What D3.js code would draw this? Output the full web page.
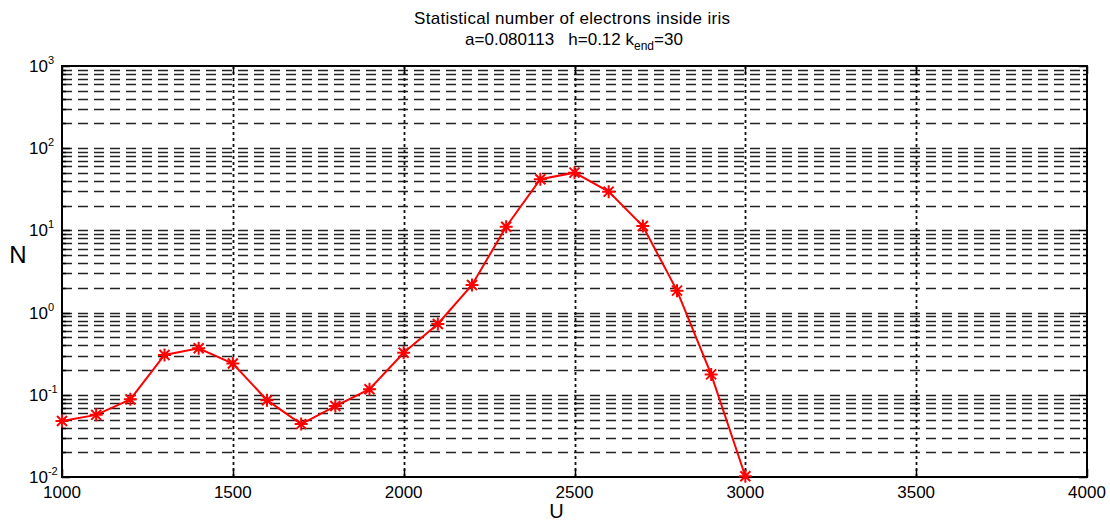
<!DOCTYPE html>
<html>
<head>
<meta charset="utf-8">
<script src="https://cdn.jsdelivr.net/npm/d3@7"></script>
<style>
  html, body { margin: 0; padding: 0; background: #fff; }
  svg { display: block; }
  text { font-family: "Liberation Sans", Arial, sans-serif; fill: #000; white-space: pre; }
</style>
</head>
<body>
<div id="chart"></div>
<script>
// Electron count N versus U (log scale)
const uValues = [1000, 1100, 1200, 1300, 1400, 1500, 1600, 1700, 1800, 1900, 2000,
                 2100, 2200, 2300, 2400, 2500, 2600, 2700, 2800, 2900, 3000];
const nValues = [0.048, 0.057, 0.088, 0.305, 0.368, 0.24, 0.086, 0.044, 0.073, 0.117, 0.325,
                 0.726, 2.17, 11.1, 41.9, 50.4, 29.6, 11.3, 1.85, 0.177, 0.0102];
const xTicks = [1000, 1500, 2000, 2500, 3000, 3500, 4000];
const yExponents = [-2, -1, 0, 1, 2, 3];
const titleLine1 = "Statistical number of electrons inside iris";
const titleParams = { a: "0.080113", h: "0.12", kend: "30" };

const W = 1110, H = 524;
const plot = { left: 62, right: 1087, top: 66, bottom: 477 };

const svg = d3.select("#chart").append("svg")
  .attr("width", W).attr("height", H);

const x = d3.scaleLinear().domain([1000, 4000]).range([plot.left, plot.right]);
const y = d3.scaleLog().domain([1e-2, 1e3]).range([plot.bottom, plot.top]);

// minor log positions (2..9 in every decade) and decade positions
const minorVals = [];
for (let e = -2; e < 3; e++) for (let m = 2; m <= 9; m++) minorVals.push(m * Math.pow(10, e));
const majorVals = yExponents.map(e => Math.pow(10, e));

const grid = svg.append("g");
// horizontal dashed grid at every log tick
grid.selectAll("line.h").data(minorVals.concat(majorVals.slice(1, -1))).join("line")
  .attr("class", "h")
  .attr("x1", plot.left).attr("x2", plot.right)
  .attr("y1", d => Math.round(y(d)) + 0.5).attr("y2", d => Math.round(y(d)) + 0.5)
  .attr("stroke", "#222").attr("stroke-width", 1.6)
  .attr("stroke-dasharray", "10,6");
// vertical dotted grid at the inner x ticks
grid.selectAll("line.v").data(xTicks.slice(1, -1)).join("line")
  .attr("class", "v")
  .attr("x1", d => Math.round(x(d)) + 0.5).attr("x2", d => Math.round(x(d)) + 0.5)
  .attr("y1", plot.top).attr("y2", plot.bottom)
  .attr("stroke", "#111").attr("stroke-width", 1.8)
  .attr("stroke-dasharray", "3,3");

// axes box
const ax = svg.append("g").attr("stroke", "#000").attr("fill", "none");
ax.append("rect")
  .attr("x", plot.left).attr("y", plot.top)
  .attr("width", plot.right - plot.left).attr("height", plot.bottom - plot.top)
  .attr("stroke-width", 2);

// tick marks on all four sides (inward)
const majLen = 8, minLen = 4;
majorVals.concat(minorVals).forEach(v => {
  const len = majorVals.includes(v) ? majLen : minLen;
  const yy = Math.round(y(v)) + 0.5;
  ax.append("line").attr("x1", plot.left).attr("x2", plot.left + len)
    .attr("y1", yy).attr("y2", yy).attr("stroke-width", 1.5);
  ax.append("line").attr("x1", plot.right).attr("x2", plot.right - len)
    .attr("y1", yy).attr("y2", yy).attr("stroke-width", 1.5);
});
xTicks.forEach(v => {
  const xx = Math.round(x(v)) + 0.5;
  ax.append("line").attr("x1", xx).attr("x2", xx)
    .attr("y1", plot.bottom).attr("y2", plot.bottom - majLen).attr("stroke-width", 1.5);
  ax.append("line").attr("x1", xx).attr("x2", xx)
    .attr("y1", plot.top).attr("y2", plot.top + majLen).attr("stroke-width", 1.5);
});

// x tick labels
svg.append("g").selectAll("text").data(xTicks).join("text")
  .attr("x", d => x(d)).attr("y", 498)
  .attr("text-anchor", "middle")
  .style("font-size", "17px")
  .text(d => d);

// y tick labels as 10 with a superscript exponent
const yl = svg.append("g").selectAll("text").data(yExponents).join("text")
  .attr("x", 29).attr("y", d => y(Math.pow(10, d)) + 6)
  .attr("text-anchor", "start")
  .style("font-size", "17px");
yl.append("tspan").text("10");
yl.append("tspan").attr("dy", -8).style("font-size", "11px").text(d => d);

// axis titles
svg.append("text").attr("x", x(2500) - 18).attr("y", 518)
  .attr("text-anchor", "middle").style("font-size", "20px").text("U");
svg.append("text").attr("x", 18).attr("y", 263)
  .attr("text-anchor", "middle").style("font-size", "24px").text("N");

// title
svg.append("text").attr("x", 572).attr("y", 24)
  .attr("text-anchor", "middle").style("font-size", "17px")
  .attr("textLength", 316).attr("lengthAdjust", "spacing")
  .text(titleLine1);
const t2 = svg.append("text").attr("x", 574).attr("y", 45)
  .attr("text-anchor", "middle").style("font-size", "17px");
t2.append("tspan").text(`a=${titleParams.a}\u00a0\u00a0\u00a0h=${titleParams.h} k`);
t2.append("tspan").attr("dy", 5).style("font-size", "12px").text("end");
t2.append("tspan").attr("dy", -5).text(`=${titleParams.kend}`);

// data line
const pts = uValues.map((u, i) => [u, nValues[i]]);
const line = d3.line().x(d => x(d[0])).y(d => y(d[1]));
svg.append("path").datum(pts)
  .attr("d", line)
  .attr("fill", "none").attr("stroke", "#ff0000").attr("stroke-width", 2);

// asterisk markers
const r = 6.5, rd = 5;
const star = `M${-r},0L${r},0M0,${-r}L0,${r}M${-rd},${-rd}L${rd},${rd}M${-rd},${rd}L${rd},${-rd}`;
svg.append("g").selectAll("path").data(pts).join("path")
  .attr("transform", d => `translate(${x(d[0])},${y(d[1])})`)
  .attr("d", star)
  .attr("fill", "none").attr("stroke", "#ff0000").attr("stroke-width", 2);
</script>
</body>
</html>
